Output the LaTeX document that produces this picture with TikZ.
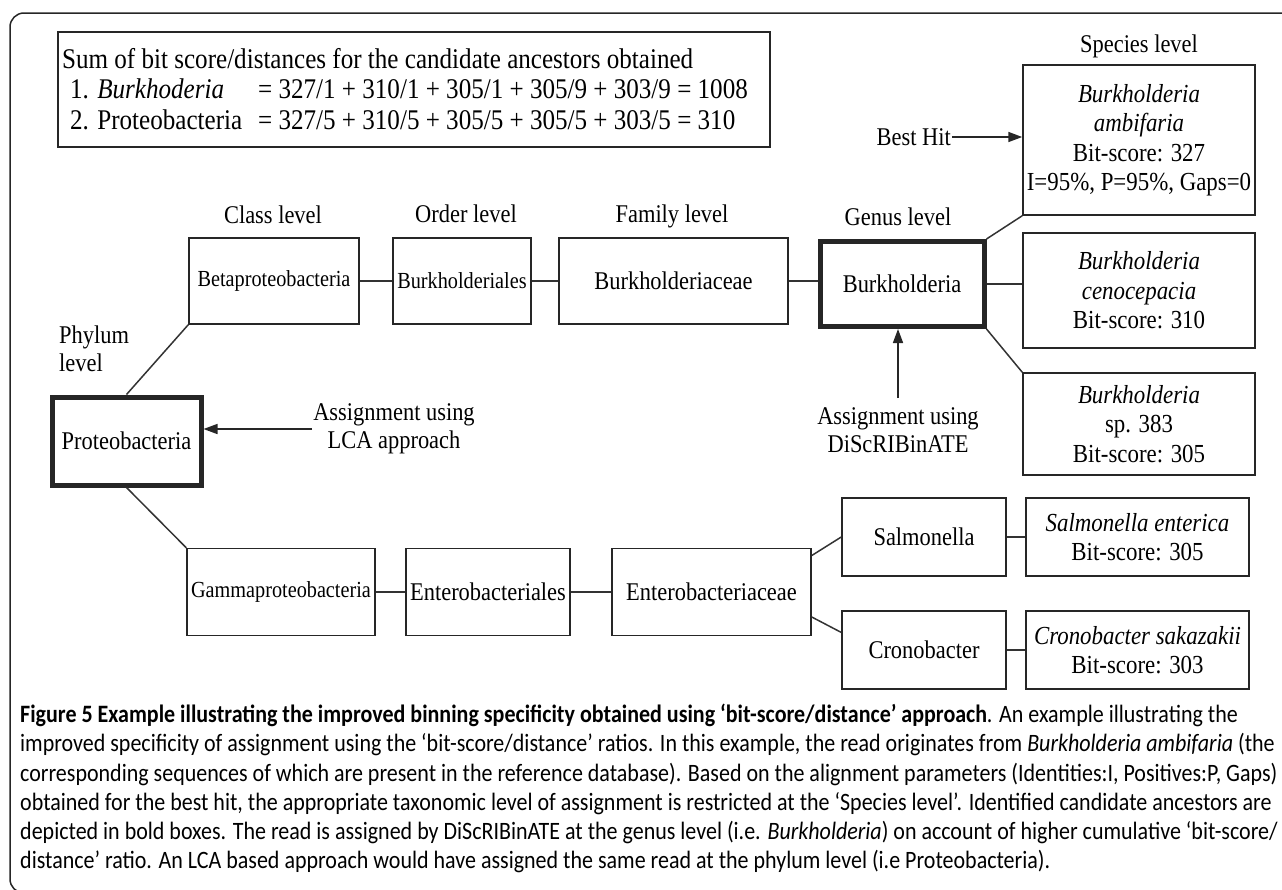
\documentclass[tikz,border=0pt]{standalone}
\usepackage{fontspec}
\setmainfont{Liberation Serif}[FakeStretch=0.88]
\newfontfamily\capfont{Carlito}[FakeStretch=0.88]
\usetikzlibrary{arrows.meta,positioning}

\newcommand{\sumsize}{\fontsize{28.5}{30}\selectfont}
\newcommand{\lblsize}{\fontsize{25.5}{28}\selectfont}
\newcommand{\narrowsize}{\fontsize{23}{28}\selectfont}
\newcommand{\spcsize}{\fontsize{26}{29.5}\selectfont}
\newcommand{\capsize}{\capfont\fontsize{25}{29.2}\selectfont}

\tikzset{
  taxbox/.style={draw=black!85, line width=1.5pt, align=center, inner sep=2pt, font=\lblsize},
  candbox/.style={taxbox, line width=5pt},
  lvl/.style={font=\lblsize, inner sep=1pt},
  sumline/.style={font=\sumsize, inner sep=0pt, anchor=west},
  treelink/.style={draw=black!80, line width=1.5pt},
  assignarrow/.style={draw=black!85, line width=1.6pt, -{Triangle[length=14pt,width=10pt]}}
}

\begin{document}
\begin{tikzpicture}[x=1pt,y=-1pt]
\useasboundingbox (0,0) rectangle (1282,889);
\clip (0,0) rectangle (1282,889);
% panel frame
\draw[black!85, line width=1.5pt, rounded corners=14pt] (10,13) rectangle (1400,893);

% summary of bit score/distance sums
\node[taxbox, minimum width=712pt, minimum height=115pt] (sumbox) at (414,89.5) {};
\node[sumline] (sumhead) at (62,59) {Sum of bit score/distances for the candidate ancestors obtained};
\node[sumline] (burksum) at (70,89) {1. \textit{Burkhoderia}};
\node[sumline] (burkval) at (258,89) {= 327/1 + 310/1 + 305/1 + 305/9 + 303/9 = 1008};
\node[sumline] (protsum) at (70,120) {2. Proteobacteria};
\node[sumline] (protval) at (258,120) {= 327/5 + 310/5 + 305/5 + 305/5 + 303/5 = 310};

% level labels
\node[lvl] (spclvl) at (1139,46) {Species level};
\node[lvl] (clslvl) at (273,215) {Class level};
\node[lvl] (ordlvl) at (466,214) {Order level};
\node[lvl] (famlvl) at (672,216) {Family level};
\node[lvl] (genlvl) at (898,217) {Genus level};
\node[lvl, align=left, anchor=north west, inner sep=0pt] (phylvl) at (59,326) {Phylum\\level};

% species boxes (Burkholderia)
\node[taxbox, font=\spcsize, minimum width=232pt, minimum height=150pt] (ambi) at (1139,140)
  {\textit{Burkholderia}\\\textit{ambifaria}\\Bit-score: 327\\I=95\%, P=95\%, Gaps=0};
\node[taxbox, font=\spcsize, minimum width=232pt, minimum height=115pt] (ceno) at (1139,290.5)
  {\textit{Burkholderia}\\\textit{cenocepacia}\\Bit-score: 310};
\node[taxbox, font=\spcsize, minimum width=232pt, minimum height=102pt] (spthree) at (1139,424)
  {\textit{Burkholderia}\\sp. 383\\Bit-score: 305};

% Burkholderia lineage
\node[taxbox, font=\narrowsize, minimum width=170pt, minimum height=86pt] (beta) at (274,281) {Betaproteobacteria};
\node[taxbox, font=\narrowsize, minimum width=138pt, minimum height=86pt] (burkord) at (462,281) {Burkholderiales};
\node[taxbox, minimum width=229pt, minimum height=86pt] (burkfam) at (673.5,281) {Burkholderiaceae};
\node[candbox, minimum width=164pt, minimum height=85pt] (genus) at (902,284) {Burkholderia};

% phylum
\node[candbox, minimum width=149pt, minimum height=88pt] (proteo) at (126.5,441) {Proteobacteria};

% Enterobacteriaceae lineage
\node[taxbox, font=\narrowsize, minimum width=188pt, minimum height=87pt] (gamma) at (281,592) {Gammaproteobacteria};
\node[taxbox, minimum width=164pt, minimum height=87pt] (enteord) at (488,592) {Enterobacteriales};
\node[taxbox, minimum width=199pt, minimum height=87pt] (entefam) at (711.5,592) {Enterobacteriaceae};
\node[taxbox, minimum width=164pt, minimum height=78pt] (salm) at (924,537) {Salmonella};
\node[taxbox, font=\spcsize, minimum width=223pt, minimum height=78pt] (salment) at (1137.5,537)
  {\textit{Salmonella enterica}\\Bit-score: 305};
\node[taxbox, minimum width=164pt, minimum height=78pt] (crono) at (924,650) {Cronobacter};
\node[taxbox, font=\spcsize, minimum width=223pt, minimum height=78pt] (cronsak) at (1137.5,650)
  {\textit{Cronobacter sakazakii}\\Bit-score: 303};

% assignment annotations
\node[lvl, anchor=east] (besthit) at (952,137) {Best Hit};
\node[lvl, align=center] (lcatxt) at (394,429) {Assignment using\\LCA approach};
\node[lvl, align=center] (discr) at (898,430) {Assignment using\\DiScRIBinATE};

% tree links
\draw[treelink] (beta.south west) -- (proteo.north);
\draw[treelink] (proteo.south) -- (gamma.north west);
\draw[treelink] (beta) -- (burkord);
\draw[treelink] (burkord) -- (burkfam);
\draw[treelink] (burkfam.east) -- (burkfam.east -| genus.west);
\draw[treelink] (genus.north east) -- (ambi.south west);
\draw[treelink] (genus.east) -- (genus.east -| ceno.west);
\draw[treelink] (genus.south east) -- (spthree.north west);
\draw[treelink] (gamma) -- (enteord);
\draw[treelink] (enteord) -- (entefam);
\draw[treelink] (entefam.20) -- (salm.west);
\draw[treelink] (entefam.-14) -- (crono.168);
\draw[treelink] (salm) -- (salment);
\draw[treelink] (crono) -- (cronsak);

% arrows
\draw[assignarrow] (besthit.east) -- (besthit.east -| ambi.west);
\draw[assignarrow] (lcatxt.west) -- (lcatxt.west -| proteo.east);
\draw[assignarrow] ([yshift=8pt]discr.north) -- (discr.north |- genus.south);

% caption
\node[anchor=north west, inner sep=0pt, align=left, font=\capsize] (caption) at (20,704) {%
\textbf{Figure 5 Example illustrating the improved binning specificity obtained using ‘bit-score/distance’ approach}. An example illustrating the\\
improved specificity of assignment using the ‘bit-score/distance’ ratios. In this example, the read originates from \textit{Burkholderia ambifaria} (the\\
corresponding sequences of which are present in the reference database). Based on the alignment parameters (Identities:I, Positives:P, Gaps)\\
obtained for the best hit, the appropriate taxonomic level of assignment is restricted at the ‘Species level’. Identified candidate ancestors are\\
depicted in bold boxes. The read is assigned by DiScRIBinATE at the genus level (i.e. \textit{Burkholderia}) on account of higher cumulative ‘bit-score/\\
distance’ ratio. An LCA based approach would have assigned the same read at the phylum level (i.e Proteobacteria).};
\end{tikzpicture}
\end{document}
